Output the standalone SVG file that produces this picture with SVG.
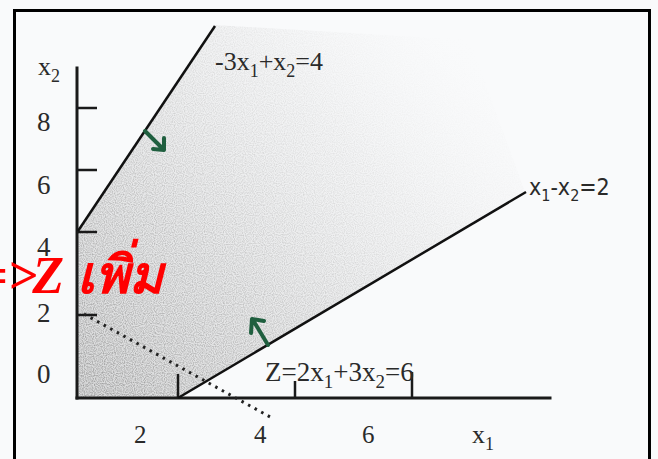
<svg xmlns="http://www.w3.org/2000/svg" width="658" height="459" viewBox="0 0 658 459">
<defs>
<style>
.ax{stroke:#1a1a1a;stroke-width:3;fill:none;stroke-linecap:square}
.ln{stroke:#111;stroke-width:2.5;fill:none}
.tk{stroke:#1a1a1a;stroke-width:2.5}
.t{font-family:"Liberation Serif",serif;fill:#2a2a2a}
.s{font-family:"DejaVu Sans Condensed","Liberation Sans",sans-serif;fill:#2a2a2a}
.g{stroke:#1f5f3f;stroke-width:4;fill:none;stroke-linecap:round;stroke-linejoin:round}
</style>
<linearGradient id="shade" x1="0" y1="1" x2="1" y2="0.2">
<stop offset="0" stop-color="#8a8a8a" stop-opacity="0.85"/>
<stop offset="0.35" stop-color="#a5a5a5" stop-opacity="0.62"/>
<stop offset="0.7" stop-color="#cccccc" stop-opacity="0.38"/>
<stop offset="1" stop-color="#eeeeee" stop-opacity="0"/>
</linearGradient>
<filter id="grain" x="0" y="0" width="1" height="1">
<feTurbulence type="fractalNoise" baseFrequency="0.9" numOctaves="1" seed="3" result="n"/>
<feColorMatrix in="n" type="matrix" values="0 0 0 0 0  0 0 0 0 0  0 0 0 0 0  0 0 0 -2.2 1.4" result="m"/>
<feComposite in="SourceGraphic" in2="m" operator="in"/>
</filter>
</defs>
<rect x="0" y="0" width="658" height="459" fill="#f9fafb"/>
<rect x="14.5" y="10.5" width="635" height="470" fill="none" stroke="#000" stroke-width="3"/>
<g id="region">
<polygon points="78,232 215,25 470,40 525,192 178,398 78,398" fill="url(#shade)" filter="url(#grain)"/>
<polygon points="78,232 215,25 470,40 525,192 178,398 78,398" fill="url(#shade)" opacity="0.35"/>
</g>
<g id="connectors">
<line class="ax" x1="77" y1="68" x2="77" y2="398"/>
<line class="ax" x1="77" y1="398" x2="550" y2="398"/>
<line class="tk" x1="77" y1="108" x2="97" y2="108"/>
<line class="tk" x1="77" y1="170" x2="97" y2="170"/>
<line class="tk" x1="77" y1="232" x2="97" y2="232"/>
<line class="tk" x1="77" y1="315" x2="97" y2="315"/>
<line class="tk" x1="178" y1="374" x2="178" y2="398"/>
<line class="tk" x1="295" y1="381" x2="295" y2="398"/>
<line class="tk" x1="412" y1="372" x2="412" y2="398"/>
<line class="ln" x1="78" y1="231" x2="215" y2="26"/>
<line class="ln" x1="178" y1="398" x2="526" y2="192"/>
<line x1="84" y1="314" x2="272" y2="418" stroke="#222" stroke-width="3" stroke-dasharray="2.5,5"/>
<path class="g" d="M145,131 L163,149 M153,149 L164,150 L164,138"/>
<path class="g" d="M268,345 L253,320 M251,333 L252,319 L264,321"/>
</g>
<g id="labels">
<text class="t" x="38" y="75" font-size="26">x<tspan font-size="18" dy="7">2</tspan></text>
<text class="t" x="37" y="131" font-size="27">8</text>
<text class="t" x="37" y="194" font-size="27">6</text>
<text class="t" x="37" y="256" font-size="27">4</text>
<text class="t" x="37" y="322" font-size="27">2</text>
<text class="t" x="37" y="383" font-size="27">0</text>
<text class="t" x="134" y="443" font-size="25">2</text>
<text class="t" x="254" y="443" font-size="25">4</text>
<text class="t" x="362" y="443" font-size="25">6</text>
<text class="t" x="472" y="443" font-size="26">x<tspan font-size="18" dy="7">1</tspan></text>
<text class="t" x="215" y="70" font-size="26">-3x<tspan font-size="18" dy="7">1</tspan><tspan dy="-7">+x</tspan><tspan font-size="18" dy="7">2</tspan><tspan dy="-7">=4</tspan></text>
<text class="s" x="529" y="195" font-size="23">x<tspan font-size="16" dy="6">1</tspan><tspan dy="-6">-x</tspan><tspan font-size="16" dy="6">2</tspan><tspan dy="-6">=2</tspan></text>
<text class="t" x="265" y="381" font-size="27">Z=2x<tspan font-size="19" dy="7">1</tspan><tspan dy="-7">+3x</tspan><tspan font-size="19" dy="7">2</tspan><tspan dy="-7">=6</tspan></text>
</g>
<g id="note">
<text x="-22" y="293" font-family="'Liberation Serif','Noto Sans',serif" font-size="52" font-weight="bold" font-style="italic" fill="#ff0000">=&gt;<tspan dx="-5">Z เพิ่ม</tspan></text>
</g>
</svg>
